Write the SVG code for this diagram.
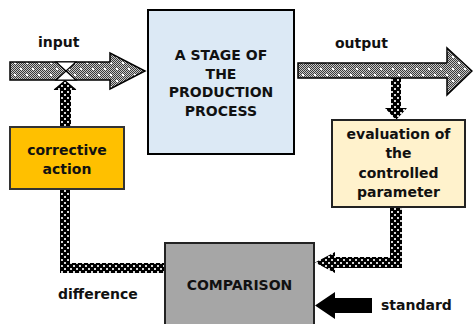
<svg xmlns="http://www.w3.org/2000/svg" width="473" height="324" viewBox="0 0 473 324">
<defs>
<pattern id="checker" width="2" height="2" patternUnits="userSpaceOnUse">
<rect width="2" height="2" fill="#c8c8c8"/>
<rect width="1" height="1" fill="#3a3a3a"/>
<rect x="1" y="1" width="1" height="1" fill="#3a3a3a"/>
</pattern>
<pattern id="shade" width="12" height="12" patternUnits="userSpaceOnUse">
<rect width="12" height="12" fill="url(#checker)"/>
<rect x="2" y="2" width="2" height="2" fill="#fff"/>
<rect x="8" y="8" width="2" height="2" fill="#fff"/>
</pattern>
<pattern id="blackdots" width="6" height="6" patternUnits="userSpaceOnUse">
<rect width="6" height="6" fill="#000"/>
<rect x="1" y="1" width="2" height="2" fill="#d8d8d8"/>
<rect x="4" y="4" width="2" height="2" fill="#d8d8d8"/>
</pattern>
<style>
.lbl{font-family:"DejaVu Sans","Verdana",sans-serif;font-weight:bold;font-size:14px;fill:#111}
.ctr{text-anchor:middle}
.box{stroke-width:2}
.big{stroke:#000;stroke-width:1.5;stroke-linejoin:miter}
</style>
</defs>

<g id="connectors">
<polygon class="big" fill="url(#shade)" points="10,62 110,62 110,53 145,71 110,89 110,80 10,80"/>
<polygon fill="#fff" stroke="#000" stroke-width="1.2" points="56,62 76,62 66,71"/>
<polygon fill="#fff" stroke="#000" stroke-width="1.2" points="56,80 76,80 66,71"/>
<polygon class="big" fill="url(#shade)" points="298,63 447,63 447,48 472,71 447,95 447,78 298,78"/>
<polygon fill="url(#blackdots)" points="60,127 71,127 71,90 77,90 65,80 53,90 60,90"/>
<polygon fill="url(#blackdots)" points="391,78 401,78 401,108 407,108 396,120 385,108 391,108"/>
<polygon fill="url(#blackdots)" points="60,189 70,189 70,263 165,263 165,273 60,273"/>
<polygon fill="url(#blackdots)" points="390,207 402,207 402,268 335,268 335,273 315,262.5 335,252 335,257 390,257"/>
<polygon fill="#000" points="372,298 335,298 335,292 315,305.5 335,319 335,313 372,313"/>
</g>

<g id="stage">
<rect class="box" x="148" y="10" width="146" height="144" fill="#dce9f5" stroke="#000" stroke-width="2.5"/>
<text class="lbl ctr" x="221" y="60">A STAGE OF</text>
<text class="lbl ctr" x="221" y="78.5">THE</text>
<text class="lbl ctr" x="221" y="97">PRODUCTION</text>
<text class="lbl ctr" x="221" y="115.5">PROCESS</text>
</g>

<g id="corrective">
<rect class="box" x="10" y="127" width="114" height="62" fill="#ffc000" stroke="#333"/>
<text class="lbl ctr" x="67" y="155">corrective</text>
<text class="lbl ctr" x="67" y="174">action</text>
</g>

<g id="evaluation">
<rect class="box" x="332" y="120" width="133" height="87" fill="#fff2cc" stroke="#222"/>
<text class="lbl ctr" x="398.5" y="139">evaluation of</text>
<text class="lbl ctr" x="398.5" y="158">the</text>
<text class="lbl ctr" x="398.5" y="178">controlled</text>
<text class="lbl ctr" x="398.5" y="197">parameter</text>
</g>

<g id="comparison">
<rect class="box" x="165" y="243" width="149" height="82" fill="#a6a6a6" stroke="#222"/>
<text class="lbl ctr" x="239.5" y="290">COMPARISON</text>
</g>

<g id="labels">
<text class="lbl" x="38" y="47">input</text>
<text class="lbl" x="335" y="48">output</text>
<text class="lbl" x="58" y="299">difference</text>
<text class="lbl" x="381" y="310">standard</text>
</g>
</svg>
